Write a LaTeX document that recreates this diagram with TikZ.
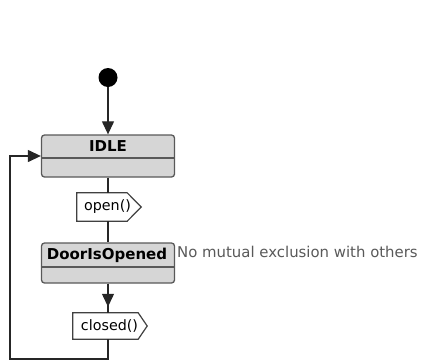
\documentclass[tikz,border=0pt]{standalone}
\usepackage{fontspec}
\setmainfont{DejaVu Sans}
\usetikzlibrary{arrows.meta,calc}
\begin{document}
\begin{tikzpicture}[x=1pt,y=-1pt,
  conn/.style={draw=black!85, line width=1.2pt},
  tipped/.style={-{Triangle[width=12pt,length=13pt]}},
  statebox/.style={draw=black!65, fill=black!16, rounded corners=3pt, line width=1.3pt,
    minimum width=133pt, inner sep=0pt},
  divider/.style={draw=black!65, line width=1.3pt},
  evnode/.style={inner sep=0pt, font=\fontsize{14.3}{16}\selectfont},
  evshape/.style={draw=black!75, fill=white, line width=1.2pt},
  notetext/.style={text=black!65, inner sep=0pt, font=\fontsize{14.9}{16}\selectfont}
]
\useasboundingbox (0,0) rectangle (422,362);
% initial state
\node[circle, fill=black, minimum size=19pt, inner sep=0pt] (init) at (108,77.5) {};
% IDLE state
\node[statebox, minimum height=42pt] (idle) at (108,156) {};
\draw[divider] ([yshift=-2pt]idle.west) -- ([yshift=-2pt]idle.east);
\node[inner sep=0pt, font=\bfseries\fontsize{15}{16}\selectfont] (idlelbl) at (108,146.5) {IDLE};
% DoorIsOpened state
\node[statebox, minimum height=40pt] (door) at (108,263) {};
\draw[divider] ([yshift=-4pt]door.west) -- ([yshift=-4pt]door.east);
\node[inner sep=0pt, font=\bfseries\fontsize{15}{16}\selectfont] (doorlbl) at (107,255) {DoorIsOpened};
% note
\node[notetext, anchor=base west] (note) at (177,257) {No mutual exclusion with others};
% events
\node[evnode, minimum width=64pt, minimum height=28pt] (open) at (109,207) {};
\draw[evshape] (open.north west) -- ([xshift=-14pt]open.north east) -- (open.east)
  -- ([xshift=-14pt]open.south east) -- (open.south west) -- cycle;
\node[evnode] (openlbl) at (107.5,207) {open()};
\node[evnode, minimum width=74pt, minimum height=26pt] (closed) at (110,326) {};
\draw[evshape] (closed.north west) -- ([xshift=-9pt]closed.north east) -- (closed.east)
  -- ([xshift=-9pt]closed.south east) -- (closed.south west) -- cycle;
\node[evnode] (closedlbl) at (109.5,326) {closed()};
% connectors
\draw[conn, tipped] (init) -- (idle.north);
\draw[conn] (idle.south) -- (idle.south |- open.north);
\draw[conn] (open.south -| door.north) -- (door.north);
\draw[conn] (door.south) -- (door.south |- closed.north);
\draw[conn, tipped] (door.south) -- ([yshift=6pt]door.south |- closed.north);
\coordinate (loopcorner) at (10,359);
\draw[conn, tipped] (closed.south -| door.south) |- (loopcorner) |- (idle.west);
\end{tikzpicture}
\end{document}
